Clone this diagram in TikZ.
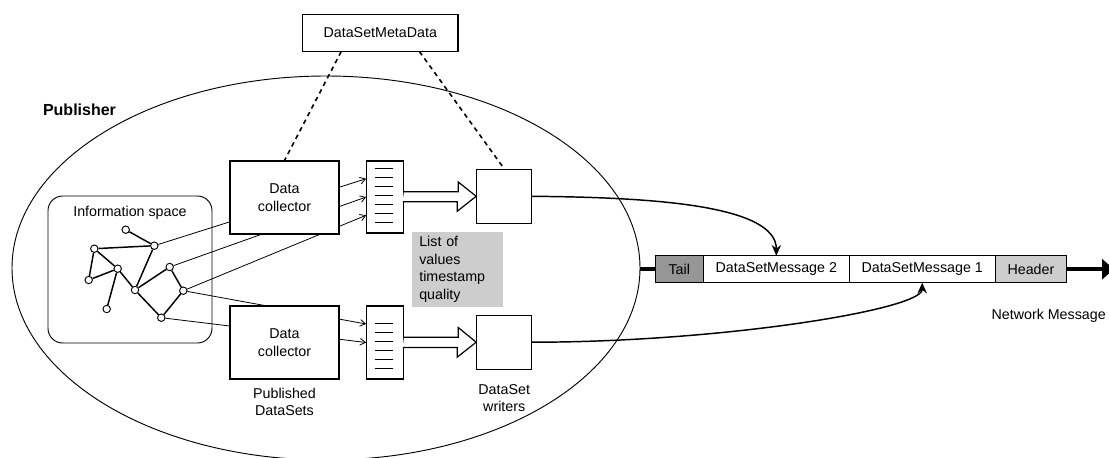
\documentclass[tikz,border=0pt]{standalone}
\usepackage{fontspec}
\setmainfont{Liberation Sans}
\usetikzlibrary{positioning,calc,arrows.meta,backgrounds}
\definecolor{tailgray}{RGB}{150,150,150}
\definecolor{hdrgray}{RGB}{205,205,205}
\newcommand{\txt}{\fontsize{10.7}{13}\selectfont}

\begin{document}
\begin{tikzpicture}[x=0.75pt, y=-0.75pt,
  box/.style={draw, line width=0.8pt, fill=white, inner sep=0pt, align=center, font=\txt},
  plain/.style={inner sep=0pt, align=center, font=\txt},
  vertex/.style={circle, draw, fill=white, line width=0.7pt, inner sep=0pt, minimum size=5.6pt},
  link/.style={line width=1.1pt},
  feed/.style={line width=0.6pt, -{Straight Barb[length=4pt,width=5pt]}},
  meta line/.style={dash pattern=on 3.4pt off 3pt, line width=1.2pt},
  msg/.style={draw, line width=0.8pt, outer sep=0pt, minimum height=20.25pt, inner sep=0pt, font=\txt},
  send/.style={line width=1.1pt, -{Stealth[length=8pt,width=7pt]}},
  bus/.style={line width=3.2pt},
  node distance=1pt]
  \useasboundingbox (0,0) rectangle (1109,457);

  \draw[line width=0.7pt] (326,268) ellipse [x radius=235.5pt, y radius=144pt];
  \node[font=\fontsize{12}{14}\selectfont\bfseries] (pub) at (79.5,110) {Publisher};

  \node[draw, line width=0.7pt, rounded corners=11pt, minimum width=123pt, minimum height=110.25pt] (info) at (130,269.5) {};
  \node[plain] (infolabel) at (130,212.5) {Information space};

  \node[vertex] (v1) at (125.7,229.7) {};
  \node[vertex] (v2) at (154.3,245.7) {};
  \node[vertex] (v3) at (94.3,248.7) {};
  \node[vertex] (v4) at (117.7,268.7) {};
  \node[vertex] (v5) at (88.7,280) {};
  \node[vertex] (v6) at (169.7,267) {};
  \node[vertex] (v7) at (135,290) {};
  \node[vertex] (v8) at (183.3,290.7) {};
  \node[vertex] (v9) at (106.7,309) {};
  \node[vertex] (v10) at (161.3,317.7) {};
  \begin{scope}[on background layer]
    \draw[link] (v1) -- (v2) (v3) -- (v2) (v3) -- (v4) (v3) -- (v5) (v5) -- (v4) (v4) -- (v9)
                (v4) -- (v7) (v7) -- (v2) (v7) -- (v6) (v6) -- (v8) (v7) -- (v10) (v10) -- (v8);
  \end{scope}

  \node[box, minimum width=81.75pt, minimum height=54.75pt] (dc1) at (284.5,197.5) {Data\\collector};
  \node[box, minimum width=81.75pt, minimum height=54.75pt] (dc2) at (284.5,342.5) {Data\\collector};
  \node[plain] (pds) [below=6pt of dc2] {Published\\DataSets};

  \node[box, minimum width=27.5pt, minimum height=54pt] (ls1) at (385,197) {};
  \node[box, minimum width=27.5pt, minimum height=54.75pt] (ls2) at (385,342.5) {};
  \foreach \k in {0,...,6}
    \draw[line width=0.8pt] ($(ls1.north west)+(9,8.3+9*\k)$) -- ++(18.3,0);
  \foreach \k in {0,...,5}
    \draw[line width=0.8pt] ($(ls2.north west)+(9,18+9*\k)$) -- ++(18.3,0);

  \node[box, minimum width=41.25pt, minimum height=40.5pt] (dw1) at (504.2,196.3) {};
  \node[box, minimum width=41.25pt, minimum height=40.5pt] (dw2) at (504.2,342.2) {};
  \node[plain] (dwl) [below=11pt of dw2] {DataSet\\writers};

  \node[fill=hdrgray, minimum width=68pt, minimum height=54.3pt, text width=57pt, inner xsep=5.5pt,
        align=left, font=\fontsize{10.7}{13.1}\selectfont] (vals) at (457.3,269.5) {List of\\values\\timestamp\\quality};

  \node[box, minimum width=116.5pt, minimum height=27.5pt] (meta) at (380.3,32.7) {DataSetMetaData};

  \begin{scope}[on background layer]
    \draw[feed] (v2) -- ($(ls1.north west)!.25!(ls1.south west)$);
    \draw[feed] (v6) -- ($(ls1.north west)!.5!(ls1.south west)$);
    \draw[feed] (v8) -- ($(ls1.north west)!.75!(ls1.south west)$);
    \draw[feed] (v8) -- ($(ls2.north west)!.25!(ls2.south west)$);
    \draw[feed] (v10) -- ($(ls2.north west)!.5!(ls2.south west)$);
  \end{scope}

  \draw[meta line] ($(meta.south west)!.25!(meta.south east)$) -- (dc1.north);
  \draw[meta line] ($(meta.south west)!.75!(meta.south east)$) -- (dw1.north);

  \foreach \a/\b in {ls1/dw1,ls2/dw2}
    \draw[line width=0.9pt, fill=white] (\a.east) ++(0,-5.35) -- ++(54.4,0) -- ++(0,-9.65) -- (\b.west)
      -- ++(-19,15) -- ++(0,-9.65) -- ++(-54.4,0);

  \node[msg, fill=tailgray, minimum width=36.2pt] (tail) at (679.2,269.2) {Tail};
  \node[msg, fill=white, minimum width=109.5pt, right=0pt of tail] (dsm2) {DataSetMessage 2};
  \node[msg, fill=white, minimum width=109.3pt, right=0pt of dsm2] (dsm1) {DataSetMessage 1};
  \node[msg, fill=hdrgray, minimum width=53.8pt, right=0pt of dsm1] (hdr) {Header};
  \node[plain, anchor=east] (netlabel) at (1106,316) {Network Message};

  \coordinate (rim) at (639.5,269.2);
  \coordinate (netend) at (1114,269.2);
  \draw[bus] (rim) -- (tail);
  \draw[bus, -{Triangle[length=9pt,width=15pt]}] (hdr) -- (netend);

  \draw[send] (dw1.east) .. controls +(118,1) and +(0,-51) .. (dsm2.north);
  \draw[send] (dw2.east) .. controls +(188,0) and +(0,27) .. (dsm1.south);
\end{tikzpicture}
\end{document}
